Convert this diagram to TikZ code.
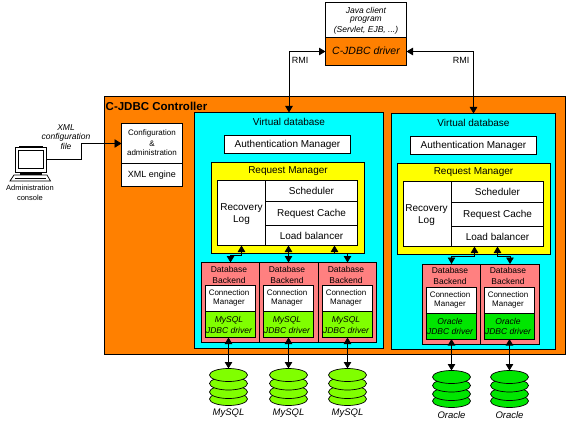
\documentclass[tikz,border=0pt]{standalone}
\usepackage{fontspec}
\setmainfont{Liberation Sans}
\usetikzlibrary{arrows.meta,shapes.geometric}
\definecolor{ctrlc}{RGB}{255,128,0}
\definecolor{vdbc}{RGB}{0,255,255}
\definecolor{rmc}{RGB}{255,255,0}
\definecolor{backendc}{RGB}{255,128,128}
\definecolor{mysqlc}{RGB}{128,255,0}
\definecolor{oraclec}{RGB}{0,230,0}
\tikzset{
 x=1pt,y=-1pt,
 bx/.style={draw=black,line width=0.8pt,rectangle,inner sep=0pt,outer sep=0pt},
 tx/.style={inner sep=0pt,outer sep=0pt,align=center,font=\fontsize{10}{12}\selectfont},
 sm/.style={inner sep=0pt,outer sep=0pt,align=center,font=\fontsize{8.5}{10}\selectfont},
 smb/.style={inner sep=0pt,outer sep=0pt,align=center,font=\fontsize{8}{10}\selectfont},
 tiny/.style={inner sep=0pt,outer sep=0pt,align=center,font=\fontsize{7.5}{10}\selectfont},
 itl/.style={inner sep=0pt,outer sep=0pt,align=center,font=\fontsize{8.5}{10}\selectfont\itshape},
 dbl/.style={inner sep=0pt,outer sep=0pt,align=center,font=\fontsize{9.5}{11}\selectfont\itshape},
 drvl/.style={inner sep=0pt,outer sep=0pt,align=center,font=\fontsize{10.5}{12}\selectfont\itshape},
 disk/.style={draw=black,line width=0.7pt,ellipse,minimum width=38pt,minimum height=13pt,inner sep=0pt,outer sep=0pt},
 con/.style={line width=0.8pt,-{Triangle[length=7pt,width=8.5pt]}},
 bicon/.style={line width=0.8pt,{Triangle[length=6.5pt,width=7.5pt]}-{Triangle[length=6.5pt,width=7.5pt]}},
}
% name x1 y1 x2 y2 fill
\newcommand{\boxat}[6]{\pgfmathsetlengthmacro{\bw}{#4-#2}\pgfmathsetlengthmacro{\bh}{#5-#3}%
 \node[bx,fill=#6,anchor=north west,minimum width=\bw,minimum height=\bh] (#1) at (#2,#3) {};}
% name x ytop fill label
\newcommand{\cyl}[5]{%
 \pgfmathsetmacro{\ya}{#3+6.5}\pgfmathsetmacro{\yb}{#3+15}\pgfmathsetmacro{\yc}{#3+23.5}\pgfmathsetmacro{\yd}{#3+30.5}\pgfmathsetmacro{\yt}{#3+45}%
 \node[disk,fill=#4] (#1d) at (#2,\yd) {};
 \node[disk,fill=#4] (#1c) at (#2,\yc) {};
 \node[disk,fill=#4] (#1b) at (#2,\yb) {};
 \node[disk,fill=#4] (#1) at (#2,\ya) {};
 \node[dbl] (#1t) at (#2,\yt) {#5};
}
% name x1 x2 wx1 wx2 y-offset fill driver-line1
\newcommand{\bend}[8]{%
 \pgfmathsetmacro{\ya}{262.5+#6}\pgfmathsetmacro{\yb}{342.5+#6}\pgfmathsetmacro{\yc}{285.5+#6}\pgfmathsetmacro{\yd}{311.5+#6}\pgfmathsetmacro{\ye}{337.5+#6}%
 \boxat{#1}{#2}{\ya}{#3}{\yb}{backendc}
 \boxat{#1w}{#4}{\yc}{#5}{\yd}{white}
 \boxat{#1d}{#4}{\yd}{#5}{\ye}{#7}
 \pgfmathsetmacro{\tx}{(#4+#5)/2-1.5}
 \pgfmathsetmacro{\ta}{269+#6}\pgfmathsetmacro{\tb}{280+#6}\pgfmathsetmacro{\tc}{293+#6}\pgfmathsetmacro{\td}{303+#6}\pgfmathsetmacro{\te}{320+#6}\pgfmathsetmacro{\tf}{330+#6}%
 \node[sm] at (\tx,\ta) {Database};
 \node[sm] at (\tx,\tb) {Backend};
 \node[smb] at (\tx,\tc) {Connection};
 \node[smb] at (\tx,\td) {Manager};
 \node[itl] at (\tx,\te) {#8};
 \node[itl] at (\tx,\tf) {JDBC driver};
}
\begin{document}
\begin{tikzpicture}
\useasboundingbox (0,0) rectangle (567,433);
% client
\boxat{client}{325.5}{2.5}{406.5}{37.5}{white}
\boxat{driver}{325.5}{37.5}{406.5}{65.5}{ctrlc}
\node[itl] at (366,10) {Java client};
\node[itl] at (366,20) {program};
\node[itl] at (366,30) {(Servlet, EJB, ...)};
\node[drvl] at (366,51) {C-JDBC driver};
% controller
\boxat{ctrl}{104.5}{96.5}{565.5}{354.5}{ctrlc}
\node[anchor=west,inner sep=0pt,font=\fontsize{11.5}{13}\selectfont\bfseries] (ctitle) at (105.5,106.5) {C-JDBC Controller};
% configuration
\boxat{cfg}{121.5}{123.5}{182.5}{163.5}{white}
\boxat{xml}{121.5}{163.5}{182.5}{186.5}{white}
\node[smb] at (152,133.5) {Configuration};
\node[smb] at (152,143.5) {\&};
\node[smb] at (152,153) {administration};
\node[sm,font=\fontsize{9}{10}\selectfont] at (152,175) {XML engine};
% left virtual database
\boxat{vdbL}{194.5}{112.5}{383.5}{348.5}{vdbc}
\node[tx] at (289,122) {Virtual database};
\boxat{authL}{224.5}{135.5}{350.5}{153.5}{white}
\node[tx] at (authL) {Authentication Manager};
\boxat{rmL}{211.5}{162.5}{364.5}{253.5}{rmc}
\node[tx] at (288,171) {Request Manager};
\boxat{logL}{217.5}{180.5}{265.5}{245.5}{white}
\node[tx] at (241.5,208) {Recovery};
\node[tx] at (241.5,220) {Log};
\boxat{schL}{265.5}{180.5}{357.5}{201.5}{white}
\boxat{cacheL}{265.5}{201.5}{357.5}{225.5}{white}
\boxat{lbL}{265.5}{225.5}{357.5}{245.5}{white}
\node[tx] at (schL) {Scheduler};
\node[tx] at (cacheL) {Request Cache};
\node[tx] at (lbL) {Load balancer};
\bend{beA}{201.5}{259.5}{205.5}{255.5}{0}{mysqlc}{MySQL}
\bend{beB}{259.5}{318.5}{263.5}{313.5}{0}{mysqlc}{MySQL}
\bend{beC}{318.5}{376.5}{322.5}{372.5}{0}{mysqlc}{MySQL}
% right virtual database
\boxat{vdbR}{391.5}{113.5}{555.5}{349.5}{vdbc}
\node[tx] at (473.5,123) {Virtual database};
\boxat{authR}{410.5}{136.5}{536.5}{154.5}{white}
\node[tx] at (authR) {Authentication Manager};
\boxat{rmR}{397.5}{163.5}{550.5}{254.5}{rmc}
\node[tx] at (473.5,172) {Request Manager};
\boxat{logR}{403.5}{181.5}{451.5}{246.5}{white}
\node[tx] at (426.5,209) {Recovery};
\node[tx] at (426.5,221) {Log};
\boxat{schR}{451.5}{181.5}{543.5}{202.5}{white}
\boxat{cacheR}{451.5}{202.5}{543.5}{226.5}{white}
\boxat{lbR}{451.5}{226.5}{543.5}{246.5}{white}
\node[tx] at (schR) {Scheduler};
\node[tx] at (cacheR) {Request Cache};
\node[tx] at (lbR) {Load balancer};
\bend{beD}{422.5}{480.5}{426.5}{476.5}{1.5}{oraclec}{Oracle}
\bend{beE}{480.5}{539.5}{484.5}{534.5}{1.5}{oraclec}{Oracle}
% databases
\cyl{dbA}{228.5}{368.5}{mysqlc}{MySQL}
\cyl{dbB}{288.5}{368.5}{mysqlc}{MySQL}
\cyl{dbC}{347.5}{368.5}{mysqlc}{MySQL}
\cyl{dbD}{451.5}{370.5}{oraclec}{Oracle}
\cyl{dbE}{509.5}{370.5}{oraclec}{Oracle}
% computer
\node[bx,fill=white,minimum width=31pt,minimum height=25pt] (pc) at (31,159.5) {};
\node[bx,fill=white,minimum width=25pt,minimum height=17.5pt] (screen) at (31,159.3) {};
\fill (20,172) rectangle (42,175.5);
\draw[fill=white,line width=0.7pt] (14,175) -- (47,175) -- (50.5,181) -- (10,181) -- cycle;
\draw[line width=1pt] (19,146.5) -- (43,146.5);
\draw[line width=0.7pt] (15,178) -- (46,178);
\node[tiny] at (30,188) {Administration};
\node[tiny] at (30,197.5) {console};
\node[itl] at (66,127.5) {XML};
\node[itl] at (66,137) {configuration};
\node[itl] at (66,146.5) {file};
% connectors
\draw[con] (pc.east) -- (81.5,159.5) |- (cfg.west);
\draw[bicon] (driver.west) -| (vdbL.north);
\draw[bicon] (driver.east) -| (vdbR.north);
\node[sm,font=\fontsize{9}{10}\selectfont] at (300,60) {RMI};
\node[sm,font=\fontsize{9}{10}\selectfont] at (461,60) {RMI};
\coordinate (tA) at (241.5,245.5);
\coordinate (tB) at (288.5,245.5);
\coordinate (tC) at (334.5,245.5);
\coordinate (tD) at (474.5,246.5);
\coordinate (tE) at (497.5,246.5);
\draw[bicon] (tA) -- (241.5,255.5) -| (beA.north);
\draw[bicon] (tB) -- (tB |- beB.north);
\draw[bicon] (tC) -- (334.5,253.5) -| (beC.north);
\draw[bicon] (tD) -- (474.5,256.5) -| (beD.north);
\draw[bicon] (tE) -- (497.5,256.5) -| (beE.north);
\draw[bicon] (dbA |- beAd.south) -- (dbA.north);
\draw[bicon] (dbB |- beBd.south) -- (dbB.north);
\draw[bicon] (dbC |- beCd.south) -- (dbC.north);
\draw[bicon] (dbD |- beDd.south) -- (dbD.north);
\draw[bicon] (dbE |- beEd.south) -- (dbE.north);
\end{tikzpicture}
\end{document}
